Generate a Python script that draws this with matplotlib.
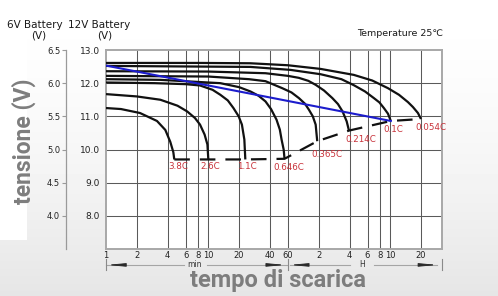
"""
Lead-acid discharge curves at 25 C, 12V scale with a 6V twin scale.
Log time axis, minutes then hours.
"""

import numpy as np
import matplotlib
matplotlib.use('Agg')
import matplotlib.pyplot as plt
from matplotlib.patches import Rectangle


OUT = 'out.png'
W, H = 498, 296

# discharge rates, fastest first
RATES = ['3.8C', '2.6C', '1.1C', '0.646C', '0.365C', '0.214C', '0.1C', '0.054C']

# time in minutes, voltage on the 12V scale
T_38 = [1, 1.4, 2.15, 3.15, 3.8, 4.25, 4.55, 4.65]
V_38 = [11.25, 11.22, 11.10, 10.86, 10.59, 10.23, 9.92, 9.70]

T_26 = [1, 2, 3.4, 5, 6.2, 7.4, 8.3, 9.2, 9.8, 10.0]
V_26 = [11.67, 11.60, 11.50, 11.32, 11.15, 10.95, 10.75, 10.45, 10.15, 9.70]

T_11 = [1, 3, 6, 8.3, 11, 13.1, 15.5, 17.6, 19.8, 21.3, 22.5, 23]
V_11 = [12.02, 12.00, 11.97, 11.93, 11.80, 11.65, 11.48, 11.25, 11.00, 10.75, 10.30, 9.70]

T_0646 = [1, 3.4, 13.1, 20, 25.8, 31, 36.2, 41, 46.4, 50, 52, 54.5, 55.6]
V_0646 = [12.12, 12.10, 12.00, 11.88, 11.75, 11.62, 11.45, 11.22, 10.90, 10.60, 10.30, 10.00, 9.72]

T_0365 = [1, 10, 25, 36.2, 52.7, 65, 76.8, 88, 96.2, 105, 112, 116]
V_0365 = [12.22, 12.20, 12.12, 12.06, 11.85, 11.72, 11.55, 11.38, 11.20, 11.00, 10.75, 10.25]

T_0214 = [1, 10, 36.2, 60, 76.8, 95, 112, 135, 163, 185, 205, 225, 237]
V_0214 = [12.36, 12.35, 12.30, 12.22, 12.16, 12.07, 11.95, 11.78, 11.55, 11.37, 11.15, 10.85, 10.57]

T_01 = [1, 25.8, 63.7, 125, 200, 264, 340, 415, 470, 520, 570, 608]
V_01 = [12.52, 12.49, 12.40, 12.27, 12.12, 11.94, 11.75, 11.55, 11.42, 11.25, 11.08, 10.86]

T_0054 = [1, 8.3, 25.8, 60, 125, 264, 400, 569, 730, 893, 1000, 1119, 1198]
V_0054 = [12.61, 12.61, 12.60, 12.54, 12.43, 12.25, 12.08, 11.85, 11.65, 11.43, 11.28, 11.10, 10.92]

# blue line
T_BLUE = [1, 608]
V_BLUE = [12.53, 10.86]

Y12_TICKS = [8.0, 9.0, 10.0, 11.0, 12.0, 13.0]
Y6_TICKS = [4.0, 4.5, 5.0, 5.5, 6.0, 6.5]
X_GRID = [2, 4, 6, 8, 10, 20, 40, 60, 120, 240, 360, 480, 600, 1200]
X_TICKS = [1] + X_GRID
X_TICK_LABELS = ['1', '2', '4', '6', '8', '10', '20', '40', '60',
                 '2', '4', '6', '8', '10', '20']

X_MAX = 1923

# label offsets from the curve end, in pixels (dx right, dy up)
LABEL_OFFSETS = [(4, -7), (2, -7), (2, -7), (4, -9),
                 (10, -13), (12, -9), (2, -9), (10, -9)]

RED = '#c8323a'
GRAY_TXT = '#7d7d7d'
GRID = '#5a5a5a'
FRAME = '#a8a8a8'


def fx(px):
    return px / W


def fy(py):
    return 1 - py / H


def draw_background(fig):
    bg = fig.add_axes([0, 0, 1, 1], zorder=-10)
    rows = np.linspace(0, 1, H)[:, None]
    shade = 1.0 - 0.10 * rows ** 1.6
    bg.imshow(shade, extent=[0, 1, 0, 1], aspect='auto', cmap='gray',
              vmin=0, vmax=1, origin='upper')
    bg.add_patch(Rectangle((0, fy(240)), fx(27), 1 - fy(240),
                           facecolor='white', edgecolor='none'))
    bg.set_xlim(0, 1)
    bg.set_ylim(0, 1)
    bg.set_axis_off()


def draw_time_arrows(ax):
    tr = ax.get_xaxis_transform()
    y = -0.08
    line_kw = dict(transform=tr, clip_on=False, color='#a5a5a5', lw=0.8)
    ax.plot([1, 5.8], [y, y], **line_kw)
    ax.plot([9.6, 60], [y, y], **line_kw)
    ax.plot([63, 240], [y, y], **line_kw)
    ax.plot([420, 1720], [y, y], **line_kw)

    head = dict(arrowstyle='-|>,head_length=1.05,head_width=0.1',
                color='#2a2a2a', lw=0.6, shrinkA=0, shrinkB=0,
                mutation_scale=10)
    for x_tip, x_tail in [(1.03, 1.43), (56, 40), (63, 84), (1720, 1230)]:
        ax.annotate('', xy=(x_tip, y), xytext=(x_tail, y),
                    xycoords=tr, textcoords=tr, arrowprops=head,
                    annotation_clip=False)

    for xb in [1, 60, X_MAX]:
        ax.plot([xb, xb], [-0.05, -0.105], transform=tr, clip_on=False,
                color='#8a8a8a', lw=0.8)

    ax.text(7.4, y, 'min', transform=tr, ha='center', va='center',
            fontsize=5.5, color='#333333')
    ax.text(320, y, 'H', transform=tr, ha='center', va='center',
            fontsize=5.5, color='#333333')


def main():
    plt.rcParams['font.family'] = ['DejaVu Sans']

    fig = plt.figure(figsize=(W / 100, H / 100), dpi=100, facecolor='white')
    draw_background(fig)

    ax = fig.add_axes([fx(106), fy(249), (442 - 106) / W, (249 - 50) / H])
    ax.set_facecolor('white')
    ax.set_xscale('log')
    ax.set_xlim(1, X_MAX)
    ax.set_ylim(7, 13)

    for xg in X_GRID:
        ax.axvline(xg, color=GRID, lw=0.75, zorder=1)
    for yg in Y12_TICKS[:-1]:
        ax.axhline(yg, color=GRID, lw=0.75, zorder=1)

    for spine in ax.spines.values():
        spine.set_color(FRAME)
        spine.set_linewidth(1.4)

    ax.set_xticks(X_TICKS)
    ax.set_xticklabels(X_TICK_LABELS)
    ax.xaxis.set_minor_locator(matplotlib.ticker.NullLocator())
    ax.tick_params(axis='x', length=0, pad=1.5, labelsize=6,
                   labelcolor='#222222')

    ax.set_yticks(Y12_TICKS)
    ax.set_yticklabels([f'{v:.1f}' for v in Y12_TICKS])
    ax.tick_params(axis='y', length=0, pad=4.3, labelsize=6.5,
                   labelcolor='#222222')

    sec = ax.secondary_yaxis(-0.119, functions=(lambda v: v / 2,
                                                lambda v: v * 2))
    sec.set_yticks(Y6_TICKS)
    sec.set_yticklabels([f'{v:.1f}' for v in Y6_TICKS])
    sec.spines['left'].set_color('#9a9a9a')
    sec.spines['left'].set_linewidth(0.9)
    sec.tick_params(axis='y', length=3, width=0.8, color='#9a9a9a',
                    pad=1.2, labelsize=6, labelcolor='#222222')

    curves = [(T_38, V_38), (T_26, V_26), (T_11, V_11), (T_0646, V_0646),
              (T_0365, V_0365), (T_0214, V_0214), (T_01, V_01),
              (T_0054, V_0054)]
    for t, v in curves:
        ax.plot(t, v, color='#111111', lw=1.6, zorder=3,
                solid_capstyle='butt', solid_joinstyle='round')

    # end-of-discharge line through the curve ends
    ends_t = [c[0][-1] for c in curves]
    ends_v = [c[1][-1] for c in curves]
    ax.plot(ends_t, ends_v, color='#111111', lw=1.6, dashes=(7, 4.5),
            zorder=3)

    ax.plot(T_BLUE, V_BLUE, color='#1c1ccc', lw=1.5, zorder=4)

    for rate, (t, v), (dx, dy) in zip(RATES, curves, LABEL_OFFSETS):
        ax.annotate(rate, xy=(t[-1], v[-1]),
                    xytext=(dx * 0.72, dy * 0.72), textcoords='offset points',
                    ha='center', va='center', fontsize=6.3, color=RED,
                    zorder=5)

    # headers
    fig.text(fx(7), fy(25), '6V Battery', fontsize=7.5, va='center',
             color='#1a1a1a')
    fig.text(fx(39), fy(36), '(V)', fontsize=7.5, va='center', ha='center',
             color='#1a1a1a')
    fig.text(fx(68), fy(25), '12V Battery', fontsize=7.5, va='center',
             color='#1a1a1a')
    fig.text(fx(105), fy(36), '(V)', fontsize=7.5, va='center', ha='center',
             color='#1a1a1a')
    fig.text(fx(357), fy(33), 'Temperature 25℃', fontsize=6.8, va='center',
             color='#1a1a1a')

    fig.text(fx(24), fy(141), 'tensione (V)', rotation=90, ha='center',
             va='center', fontsize=16.5, fontweight='bold', color=GRAY_TXT,
             family=['Roboto', 'DejaVu Sans'])
    fig.text(fx(278), fy(281), 'tempo di scarica', ha='center', va='center',
             fontsize=17, fontweight='bold', color=GRAY_TXT,
             family=['Roboto', 'DejaVu Sans'])

    draw_time_arrows(ax)

    fig.savefig(OUT, dpi=100, facecolor='white')
    plt.close(fig)


if __name__ == '__main__':
    main()
